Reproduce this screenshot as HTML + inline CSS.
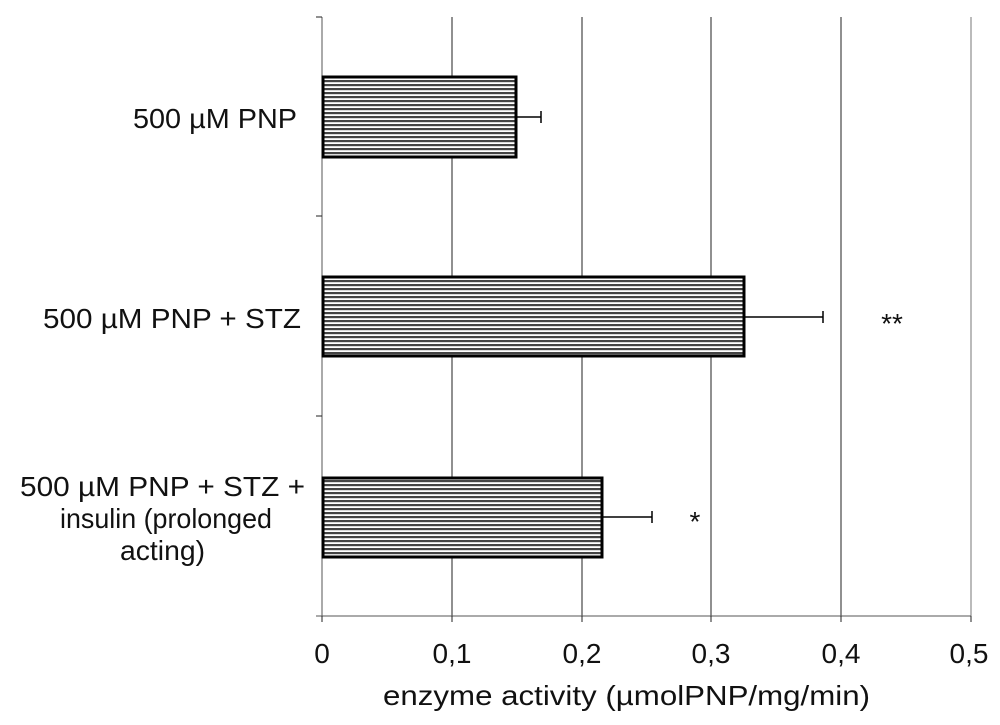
<!DOCTYPE html>
<html><head><style>
body{margin:0;background:#fff;}
svg{display:block;font-family:"Liberation Sans",Arial,sans-serif;}
</style></head><body>
<svg width="1000" height="725" viewBox="0 0 1000 725">
<defs>
<pattern id="st" width="10" height="4" patternUnits="userSpaceOnUse">
<rect width="10" height="4" fill="#fff"/>
<rect y="0" width="10" height="2.2" fill="#444"/>
</pattern>
</defs>
<g stroke="#222" stroke-width="1">
<line x1="452" y1="17" x2="452" y2="616"/>
<line x1="582" y1="17" x2="582" y2="616"/>
<line x1="711" y1="17" x2="711" y2="616"/>
<line x1="841" y1="17" x2="841" y2="616"/>
<line x1="971" y1="17" x2="971" y2="616" stroke="#777"/>
<line x1="322" y1="17" x2="322" y2="616" stroke="#555"/>
<line x1="316" y1="616" x2="971" y2="616" stroke="#555"/>
<line x1="316" y1="17" x2="322" y2="17"/>
<line x1="316" y1="216" x2="322" y2="216"/>
<line x1="316" y1="416" x2="322" y2="416"/>
<line x1="322" y1="616" x2="322" y2="622"/>
<line x1="452" y1="616" x2="452" y2="622"/>
<line x1="582" y1="616" x2="582" y2="622"/>
<line x1="711" y1="616" x2="711" y2="622"/>
<line x1="841" y1="616" x2="841" y2="622"/>
<line x1="971" y1="616" x2="971" y2="622"/>
</g>
<g stroke="#000" stroke-width="3" fill="url(#st)">
<rect x="323" y="77" width="193" height="80"/>
<rect x="323" y="277" width="421" height="79"/>
<rect x="323" y="478" width="279" height="79"/>
</g>
<g stroke="#000" stroke-width="1.5">
<line x1="516" y1="117" x2="541" y2="117"/><line x1="541" y1="111" x2="541" y2="123"/>
<line x1="744" y1="317" x2="823" y2="317"/><line x1="823" y1="311" x2="823" y2="323"/>
<line x1="602" y1="517" x2="652" y2="517"/><line x1="652" y1="511" x2="652" y2="523"/>
</g>
<g font-size="28" fill="#111">
<text x="892" y="333" text-anchor="middle">**</text>
<text x="695" y="531" text-anchor="middle">*</text>
<text x="133" y="128" textLength="164" lengthAdjust="spacingAndGlyphs">500 µM PNP</text>
<text x="43" y="328" textLength="258" lengthAdjust="spacingAndGlyphs">500 µM PNP + STZ</text>
<text x="20" y="496" textLength="285" lengthAdjust="spacingAndGlyphs">500 µM PNP + STZ +</text>
<text x="60" y="528" textLength="212" lengthAdjust="spacingAndGlyphs">insulin (prolonged</text>
<text x="120" y="560" textLength="85" lengthAdjust="spacingAndGlyphs">acting)</text>
<g text-anchor="middle">
<text x="322" y="663">0</text>
<text x="452" y="663">0,1</text>
<text x="582" y="663">0,2</text>
<text x="711" y="663">0,3</text>
<text x="841" y="663">0,4</text>
<text x="969" y="663">0,5</text>
</g>
<text x="383" y="705" textLength="487" lengthAdjust="spacingAndGlyphs">enzyme activity (µmolPNP/mg/min)</text>
</g>
</svg>
</body></html>
